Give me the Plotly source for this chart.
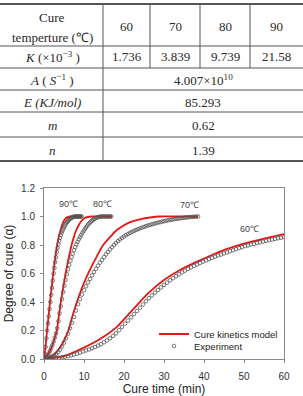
import plotly.graph_objects as go

W, H = 303, 396

# ---------------- table data ----------------
cure_temps = ["60", "70", "80", "90"]
k_values = ["1.736", "3.839", "9.739", "21.58"]
a_value = "4.007×10<sup>10</sup>"
e_value = "85.293"
m_value = "0.62"
n_value = "1.39"
header_lines = ["Cure", "temperture (℃)"]
row_labels = ["<i>K</i> (×10<sup>−3</sup> )", "<i>A</i> ( <i>S</i><sup>−1</sup> )",
              "<i>E (KJ/mol)</i>", "<i>m</i>", "<i>n</i>"]

# ---------------- chart data ----------------
curve_labels = ["90℃", "80℃", "70℃", "60℃"]
label_t = [6.1, 14.7, 36.3, 51.3]
label_a = [1.088, 1.088, 1.08, 0.91]

# model curves (time, degree of cure)
model90_t = [0, 0.2, 0.5, 0.8, 1.1, 1.5, 1.9, 2.3, 2.8, 3.3, 3.8, 4.2, 4.6, 5.0, 5.5, 6.5, 9.5]
model90_a = [0, 0.04, 0.12, 0.21, 0.29, 0.40, 0.50, 0.60, 0.71, 0.80, 0.87, 0.91, 0.945, 0.97, 0.99, 1.0, 1.0]
model80_t = [0, 1, 2, 2.6, 3.2, 3.7, 4.2, 4.8, 5.4, 6.1, 6.9, 7.4, 8.0, 8.7, 9.4, 10.2, 12, 17]
model80_a = [0, 0.03, 0.09, 0.14, 0.20, 0.30, 0.40, 0.50, 0.60, 0.70, 0.80, 0.85, 0.90, 0.94, 0.97, 0.99, 1.0, 1.0]
model70_t = [0, 2, 4, 5, 6.1, 7, 8, 9.5, 11.2, 13, 14.8, 16.5, 18, 19.5, 21.5, 24, 26.5, 29, 33, 38.5]
model70_a = [0, 0.02, 0.08, 0.13, 0.20, 0.29, 0.38, 0.50, 0.61, 0.71, 0.80, 0.855, 0.90, 0.93, 0.96, 0.98, 0.993, 1.0, 1.0, 1.0]
model60_t = [0, 5, 10, 14, 18, 22, 26, 30, 34, 38, 42, 46, 50, 55, 60]
model60_a = [0, 0.02, 0.08, 0.14, 0.22, 0.34, 0.46, 0.555, 0.625, 0.68, 0.73, 0.775, 0.81, 0.845, 0.877]

# experiment (sampled at constant time step starting at 0)
exp90_step = 0.2
exp90 = [0.000, 0.035, 0.085, 0.145, 0.200, 0.250, 0.300, 0.350, 0.400, 0.450,
         0.500, 0.550, 0.600, 0.640, 0.680, 0.715, 0.750, 0.780, 0.805, 0.830,
         0.850, 0.870, 0.887, 0.900, 0.912, 0.924, 0.935, 0.945, 0.954, 0.962,
         0.969, 0.975, 0.981, 0.986, 0.990, 0.993, 0.996, 0.998, 0.999, 1.000,
         1.000, 1.000, 1.000, 1.000, 1.000, 1.000, 1.000, 1.000]
exp80_step = 0.3
exp80 = [0.000, 0.004, 0.012, 0.025, 0.040, 0.058, 0.078, 0.098, 0.122, 0.150,
         0.180, 0.215, 0.265, 0.320, 0.370, 0.420, 0.470, 0.515, 0.555, 0.595,
         0.630, 0.660, 0.690, 0.715, 0.740, 0.763, 0.785, 0.805, 0.822, 0.840,
         0.855, 0.870, 0.885, 0.898, 0.911, 0.923, 0.935, 0.946, 0.955, 0.963,
         0.970, 0.977, 0.983, 0.988, 0.992, 0.995, 0.997, 0.999, 1.000, 1.000,
         1.000, 1.000, 1.000, 1.000, 1.000, 1.000, 1.000]
exp70_step = 0.5
exp70 = [0.000, 0.002, 0.005, 0.010, 0.017, 0.025, 0.035, 0.048, 0.065, 0.088,
         0.115, 0.145, 0.178, 0.215, 0.255, 0.295, 0.340, 0.385, 0.420, 0.452,
         0.482, 0.510, 0.537, 0.562, 0.587, 0.610, 0.633, 0.655, 0.676, 0.696,
         0.715, 0.734, 0.752, 0.769, 0.785, 0.800, 0.814, 0.827, 0.839, 0.850,
         0.860, 0.869, 0.877, 0.885, 0.892, 0.899, 0.905, 0.911, 0.917, 0.922,
         0.927, 0.932, 0.937, 0.941, 0.945, 0.949, 0.953, 0.957, 0.960, 0.964,
         0.967, 0.970, 0.973, 0.976, 0.978, 0.981, 0.983, 0.985, 0.987, 0.989,
         0.991, 0.993, 0.994, 0.996, 0.997, 0.998, 0.999, 1.000]
exp60_step = 0.75
exp60 = [0.000, 0.001, 0.003, 0.005, 0.007, 0.009, 0.012, 0.016, 0.020, 0.025,
         0.031, 0.037, 0.045, 0.052, 0.060, 0.067, 0.075, 0.084, 0.094, 0.104,
         0.117, 0.130, 0.145, 0.162, 0.180, 0.202, 0.225, 0.248, 0.270, 0.293,
         0.315, 0.337, 0.360, 0.383, 0.405, 0.427, 0.447, 0.466, 0.484, 0.502,
         0.520, 0.536, 0.552, 0.567, 0.581, 0.595, 0.608, 0.620, 0.632, 0.643,
         0.653, 0.663, 0.673, 0.683, 0.692, 0.701, 0.710, 0.718, 0.726, 0.733,
         0.741, 0.748, 0.756, 0.763, 0.771, 0.778, 0.785, 0.792, 0.797, 0.803,
         0.808, 0.814, 0.819, 0.824, 0.829, 0.834, 0.838, 0.843, 0.847, 0.851,
         0.855]

# ---------------- styling ----------------
RED = "rgb(228,22,22)"
MARK = "#555555"
SERIF = "Liberation Serif"
SANS = "Liberation Sans, Arial"
TXT = "#2a2a2a"


def px(v):
    return v / W


def py(v):
    return 1 - v / H


fig = go.Figure()

models = [(model90_t, model90_a), (model80_t, model80_a),
          (model70_t, model70_a), (model60_t, model60_a)]
for i, (t, a) in enumerate(models):
    fig.add_trace(go.Scatter(
        x=t, y=a, mode="lines", line=dict(color=RED, width=1.8, shape="spline", smoothing=0.6),
        name="Cure kinetics model", showlegend=(i == 0), legend="legend"))

exps = [(exp90, exp90_step), (exp80, exp80_step), (exp70, exp70_step), (exp60, exp60_step)]
for i, (a, step) in enumerate(exps):
    fig.add_trace(go.Scatter(
        y=a, x0=0, dx=step, mode="markers",
        marker=dict(symbol="circle-open", size=3.6, color=MARK, line=dict(width=0.8, color=MARK)),
        name="Experiment", showlegend=(i == 0), legend="legend2"))

annotations = []
for lab, t, a in zip(curve_labels, label_t, label_a):
    annotations.append(dict(x=t, y=a, xref="x", yref="y", text=lab, showarrow=False,
                            xanchor="center", yanchor="middle",
                            font=dict(family=SANS, size=9, color="#444444")))

# ---------------- table (layout) ----------------
shapes = []
line_col = "#555555"
h_lines = [(4, 2), (46, 1), (68, 1), (90, 1), (112, 1), (137, 1), (161, 2)]
for yy, wdt in h_lines:
    shapes.append(dict(type="line", xref="paper", yref="paper", x0=0, x1=1,
                       y0=py(yy), y1=py(yy), line=dict(color=line_col, width=wdt)))
shapes.append(dict(type="line", xref="paper", yref="paper", x0=px(103), x1=px(103),
                   y0=py(4), y1=py(161), line=dict(color=line_col, width=1)))
for xx in [150, 200, 250]:
    shapes.append(dict(type="line", xref="paper", yref="paper", x0=px(xx), x1=px(xx),
                       y0=py(4), y1=py(68), line=dict(color=line_col, width=1)))

tfont = dict(family=SERIF, size=13, color=TXT)
col_x = [126.5, 175, 225, 276.5]
label_x = 52
merged_x = 203
row_y = [57, 80, 102, 126, 150]


def cell(x, y, text):
    annotations.append(dict(x=px(x), y=py(y), xref="paper", yref="paper", text=text,
                            showarrow=False, xanchor="center", yanchor="middle", font=tfont))


cell(label_x, 17, header_lines[0])
cell(label_x, 37, header_lines[1])
for cx, tv in zip(col_x, cure_temps):
    cell(cx, 27, tv)
for ry, lab in zip(row_y, row_labels):
    cell(label_x, ry, lab)
for cx, kv in zip(col_x, k_values):
    cell(cx, row_y[0], kv)
for ry, val in zip(row_y[1:], [a_value, e_value, m_value, n_value]):
    cell(merged_x, ry, val)

axis_common = dict(showline=True, linecolor="#8a8a8a", linewidth=1, mirror=True,
                   ticks="outside", ticklen=3, tickcolor="#8a8a8a", showgrid=False,
                   zeroline=False, automargin=False,
                   tickfont=dict(family=SANS, size=10, color="#333333"))

fig.update_layout(
    width=W, height=H, margin=dict(l=0, r=0, t=0, b=0),
    paper_bgcolor="white", plot_bgcolor="white",
    xaxis=dict(domain=[px(44), px(284)], range=[0, 60], dtick=10, ticklabelstandoff=5,
               title=dict(text="Cure time (min)", font=dict(family=SANS, size=12, color="#222222"),
                          standoff=14),
               **axis_common),
    yaxis=dict(domain=[py(359), py(188)], range=[0, 1.2], dtick=0.2, tickformat=".1f",
               ticklabelstandoff=3,
               title=dict(text="Degree of cure (α)", font=dict(family=SANS, size=12, color="#222222"),
                          standoff=4),
               **axis_common),
    legend=dict(x=px(154), y=py(334), xanchor="left", yanchor="middle",
                bgcolor="rgba(0,0,0,0)", font=dict(family=SANS, size=9.5, color="#222222"),
                itemwidth=30),
    legend2=dict(x=px(154), y=py(346), xanchor="left", yanchor="middle",
                 bgcolor="rgba(0,0,0,0)", font=dict(family=SANS, size=9.5, color="#222222"),
                 itemwidth=30),
    shapes=shapes, annotations=annotations,
)

fig.write_html("out.html")
